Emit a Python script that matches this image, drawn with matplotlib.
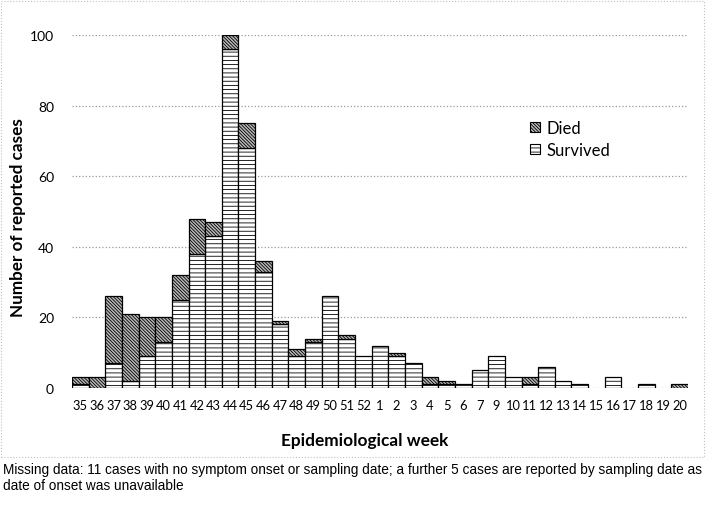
import matplotlib
matplotlib.use("Agg")
import matplotlib.pyplot as plt
from matplotlib.patches import Rectangle, Patch
import numpy as np

weeks = ['35', '36', '37', '38', '39', '40', '41', '42', '43', '44', '45', '46',
         '47', '48', '49', '50', '51', '52', '1', '2', '3', '4', '5', '6', '7',
         '9', '10', '11', '12', '13', '14', '15', '16', '17', '18', '19', '20']
survived = [1, 0, 7, 2, 9, 13, 25, 38, 43, 96, 68, 33, 18, 9, 13, 26, 14, 9,
            12, 9, 7, 1, 1, 1, 5, 9, 3, 1, 6, 2, 1, 0, 3, 0, 1, 0, 0]
died = [2, 3, 19, 19, 11, 7, 7, 10, 4, 4, 7, 3, 1, 2, 1, 0, 1, 0,
        0, 1, 0, 2, 1, 0, 0, 0, 0, 2, 0, 0, 0, 0, 0, 0, 0, 0, 1]
yticks = [0, 20, 40, 60, 80, 100]

plt.rcParams['font.family'] = ['Lato', 'DejaVu Sans']
plt.rcParams['hatch.linewidth'] = 0.6

DIED_HATCH = '\\' * 10
SURV_HATCH = '----'

W, H = 707, 506
fig = plt.figure(figsize=(W / 100, H / 100), dpi=100)
ax = fig.add_axes([72 / W, (H - 389) / H, (688 - 72) / W, (389 - 36) / H])

x = np.arange(len(weeks))
surv = np.array(survived)
dd = np.array(died)

lw_s = [0.9 if v > 0 else 0 for v in surv]
lw_d = [0.9 if v > 0 else 0 for v in dd]

ax.bar(x, surv, width=1.0, facecolor='white', edgecolor='black',
       hatch=SURV_HATCH, linewidth=lw_s, zorder=3)
ax.bar(x, dd, bottom=surv, width=1.0, facecolor='#b8b8b8', edgecolor='black',
       hatch=DIED_HATCH, linewidth=lw_d, zorder=3)

ax.set_xlim(-0.5, len(weeks) - 0.5)
ax.set_ylim(0, 100)
ax.set_yticks(yticks)
ax.set_yticklabels([str(v) for v in yticks], fontsize=10)
ax.set_xticks(x)
ax.set_xticklabels(weeks, fontsize=9.3)
ax.tick_params(axis='both', length=0)
ax.tick_params(axis='y', pad=13)
ax.tick_params(axis='x', pad=8)
for s in ax.spines.values():
    s.set_visible(False)
ax.grid(axis='y', linestyle=':', color='#9a9a9a', linewidth=0.9, zorder=0)
ax.set_axisbelow(True)

fig.text(18 / W, 1 - 218 / H, 'Number of reported cases', rotation=90,
         ha='center', va='center', fontsize=12.3, fontweight='bold')
fig.text(365 / W, 1 - 441 / H, 'Epidemiological week', ha='center',
         va='center', fontsize=12.4, fontweight='bold')

handles = [Patch(facecolor='#b8b8b8', edgecolor='black', hatch=DIED_HATCH, linewidth=0.8, label='Died'),
           Patch(facecolor='white', edgecolor='black', hatch=SURV_HATCH, linewidth=0.8, label='Survived')]
leg = fig.legend(handles=handles, loc='upper left', bbox_to_anchor=(530 / W, 1 - 121 / H),
                 frameon=False, fontsize=12, handlelength=0.6, handleheight=0.6,
                 handletextpad=0.4, labelspacing=0.35, borderpad=0, borderaxespad=0)

fig.patches.append(Rectangle((1 / W, (H - 458) / H), 703 / W, 456 / H,
                             transform=fig.transFigure, fill=False,
                             edgecolor='#c0c0c0', linestyle=':', linewidth=0.8))

fig.text(3 / W, 1 - 470 / H,
         'Missing data: 11 cases with no symptom onset or sampling date; a further 5 cases are reported by sampling date as',
         ha='left', va='center', fontsize=9.8, family=['Liberation Sans', 'DejaVu Sans'])
fig.text(3 / W, 1 - 486 / H, 'date of onset was unavailable',
         ha='left', va='center', fontsize=9.8, family=['Liberation Sans', 'DejaVu Sans'])

fig.savefig('out.png', dpi=100)
